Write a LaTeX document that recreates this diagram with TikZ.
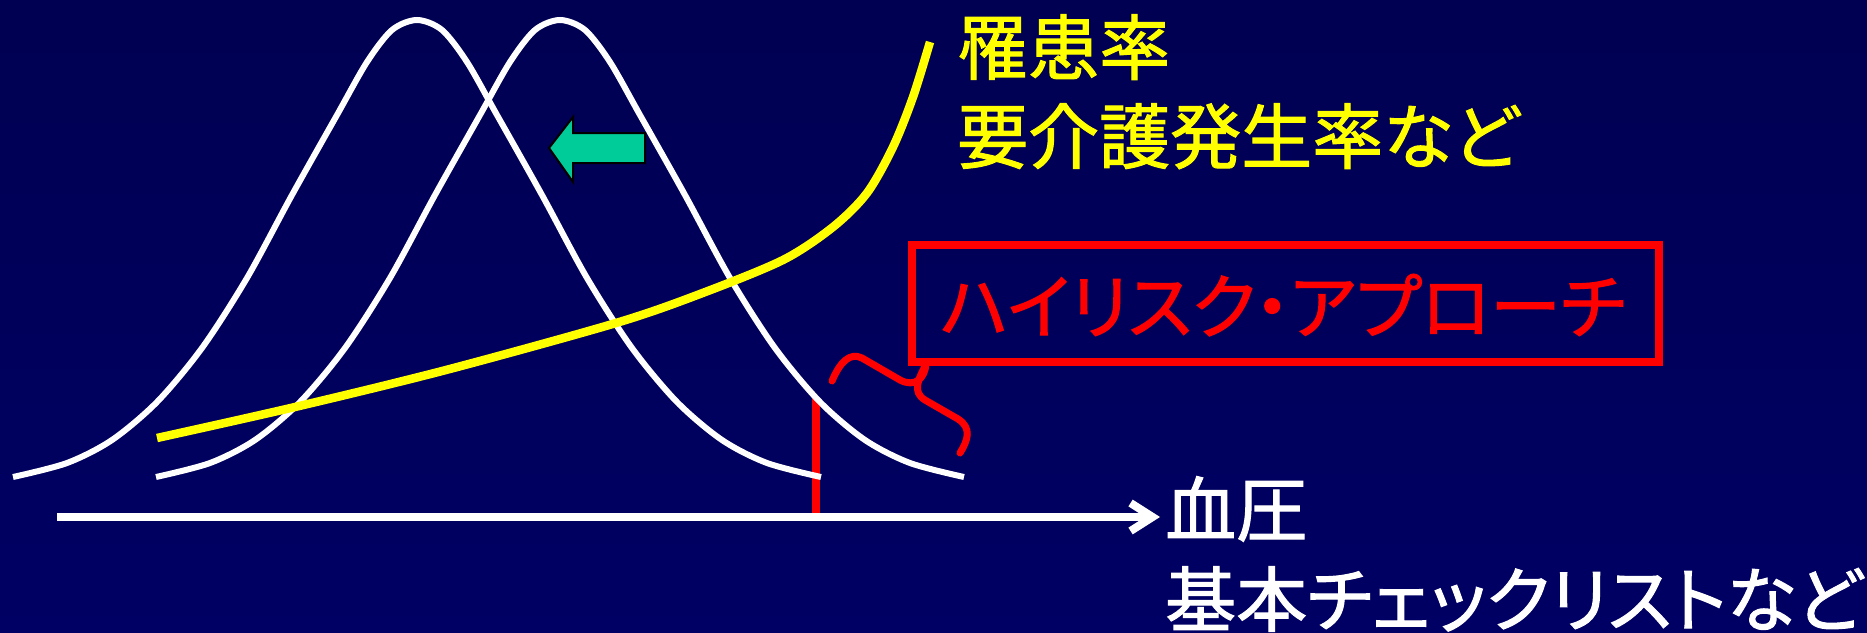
\documentclass[tikz,border=0pt]{standalone}
\usepackage{fontspec}
\usetikzlibrary{arrows.meta}
\newfontfamily\jp{Noto Sans CJK JP}[RawFeature=+palt, FakeBold=1.5]
\definecolor{bgtop}{RGB}{0,0,82}
\definecolor{bgbot}{RGB}{0,0,100}
\definecolor{arrgreen}{RGB}{0,204,153}
\definecolor{hired}{RGB}{255,0,0}
\definecolor{hiyellow}{RGB}{255,255,0}
\begin{document}
\begin{tikzpicture}[x=1pt,y=-1pt,
  bell/.style={white, line width=6pt},
  risk/.style={hiyellow, line width=8.5pt},
  redline/.style={hired, line width=7.5pt},
  bracestyle/.style={hired, line width=7pt, line cap=round, line join=round},
  axisline/.style={white, line width=8pt, -{Straight Barb[length=22pt,width=28pt]}},
  shiftarrow/.style={fill=arrgreen, draw=black, line width=2pt},
  redbox/.style={draw=hired, line width=8pt, inner sep=0pt},
  jtext/.style={font=\jp\fontsize{71}{90}\selectfont, inner sep=0pt},
]
\useasboundingbox (0,0) rectangle (1867,632);
\shade[top color=bgtop, bottom color=bgbot] (0,0) rectangle (1867,632);
\def\bellpath{plot[smooth] coordinates {(-404,477) (-350,463) (-305,440) (-260,402) (-215,348) (-170,278) (-125,195) (-80,115) (-50,62) (-25,30) (0,20) (25,30) (50,62) (80,115) (125,195) (170,278) (215,348) (260,402) (305,440) (350,463) (404,477)}}
% red threshold line
\coordinate (rv0) at (816,398);
\coordinate (rv1) at (816,517);
\draw[redline] (rv0) -- (rv1);
% bell curves
\draw[bell, shift={(417,0)}] \bellpath;
\draw[bell, shift={(560,0)}] \bellpath;
% risk curve
\draw[risk] plot[smooth] coordinates {(157,438) (295,407) (446,370) (616,323) (700,294) (783,260) (833,227) (867,193) (893,147) (913,97) (930,42)};
% shift arrow
\draw[shiftarrow] (549,148) -- (573,117) -- (573,133) -- (645,133) -- (645,163) -- (573,163) -- (573,182) -- cycle;
% axis
\coordinate (ax0) at (57,517);
\coordinate (ax1) at (1160,517);
\draw[axisline] (ax0) -- (ax1);
% box and label
\node[redbox, minimum width=747pt, minimum height=117pt] (box) at (1285.5,303.5) {};
\node[jtext, text=hired, anchor=base] (hr) at (1283,333) {ハイリスク・アプローチ};
% brace
\coordinate (tip) at (926,364);
\draw[bracestyle] (832,381) .. controls (840,362) and (850,352) .. (862,358) -- (900,380) .. controls (915,388) and (925,378) .. (tip);
\draw[bracestyle] (tip) .. controls (918,380) and (912,392) .. (925,400) -- (958,419) .. controls (972,428) and (968,440) .. (960,453);
% texts
\node[jtext, text=hiyellow, anchor=base west] (y1) at (957,74) {罹患率};
\node[jtext, text=hiyellow, anchor=base west] (y2) at (957,163) {要介護発生率など};
\node[jtext, text=white, anchor=base west] (b1) at (1165,536) {血圧};
\node[jtext, text=white, anchor=base west] (b2) at (1165,626) {基本チェックリストなど};
\end{tikzpicture}
\end{document}
